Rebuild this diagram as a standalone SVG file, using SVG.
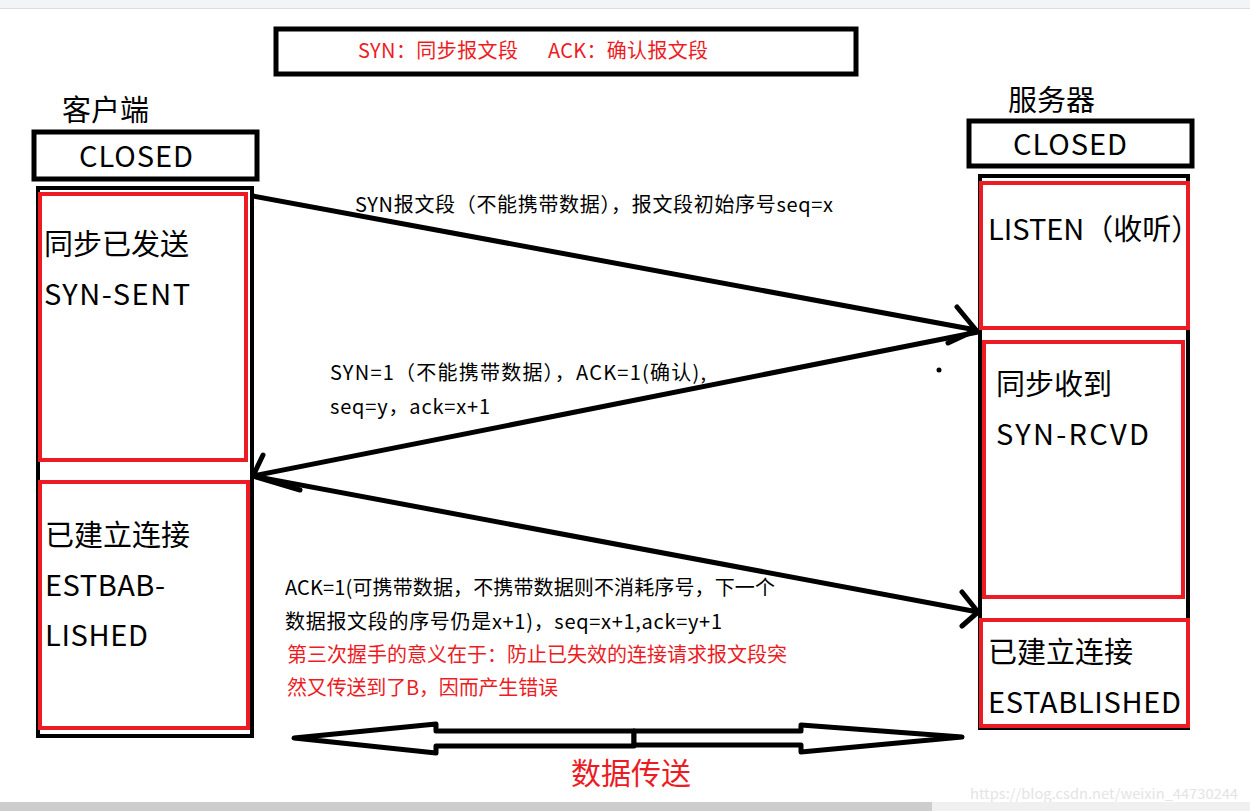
<svg xmlns="http://www.w3.org/2000/svg" width="1250" height="811" viewBox="0 0 1250 811">
<style>
  text { font-family: "Noto Sans CJK SC", "Noto Sans", sans-serif; }
  .blk { fill: none; stroke: #000; stroke-width: 5; }
  .red { fill: none; stroke: #ed1c24; stroke-width: 4; }
  .big { font-size: 29px; fill: #000; }
  .lbl { font-size: 20px; fill: #000; }
  .rlbl { font-size: 20px; fill: #ed1c24; }
  .conn { stroke: #000; stroke-width: 5; fill: none; stroke-linecap: round; stroke-linejoin: round; }
</style>
<rect x="0" y="0" width="1250" height="811" fill="#fff"/>
<g id="toolbar">
  <rect x="0" y="0" width="1250" height="8" fill="#f3f4f6"/>
  <line x1="0" y1="8.5" x2="1250" y2="8.5" stroke="#dcdde0" stroke-width="1"/>
</g>
<g id="legend">
  <rect x="276" y="29" width="580" height="45" class="blk"/>
  <text x="358" y="58" class="rlbl" textLength="160" lengthAdjust="spacing">SYN：同步报文段</text>
  <text x="548" y="58" class="rlbl" textLength="160" lengthAdjust="spacing">ACK：确认报文段</text>
</g>
<g id="client-title">
  <text x="62" y="121" class="big">客户端</text>
</g>
<g id="client-closed">
  <rect x="34" y="132" width="223" height="47" class="blk"/>
  <text x="79" y="167" class="big" textLength="114" lengthAdjust="spacing">CLOSED</text>
</g>
<g id="client-lifeline">
  <rect x="38" y="188" width="214" height="548" fill="none" stroke="#000" stroke-width="4"/>
</g>
<g id="client-syn-sent">
  <rect x="40" y="194" width="206" height="266" class="red"/>
  <text x="44" y="255" class="big">同步已发送</text>
  <text x="44" y="305" class="big" textLength="146" lengthAdjust="spacing">SYN-SENT</text>
</g>
<g id="client-established">
  <rect x="40" y="482" width="208" height="246" class="red"/>
  <text x="45" y="546" class="big">已建立连接</text>
  <text x="45" y="596" class="big" textLength="120" lengthAdjust="spacing">ESTBAB-</text>
  <text x="45" y="646" class="big" textLength="103" lengthAdjust="spacing">LISHED</text>
</g>
<g id="server-title">
  <text x="1008" y="111" class="big">服务器</text>
</g>
<g id="server-closed">
  <rect x="969" y="121" width="223" height="45" class="blk"/>
  <text x="1013" y="155" class="big" textLength="114" lengthAdjust="spacing">CLOSED</text>
</g>
<g id="server-lifeline">
  <rect x="980" y="176" width="208" height="552" fill="none" stroke="#000" stroke-width="4"/>
</g>
<g id="server-listen">
  <rect x="981" y="183" width="207" height="145" class="red"/>
  <text x="988" y="240" class="big">LISTEN（收听）</text>
</g>
<g id="server-syn-rcvd">
  <rect x="984" y="342" width="199" height="255" class="red"/>
  <text x="996" y="395" class="big">同步收到</text>
  <text x="996" y="445" class="big" textLength="153" lengthAdjust="spacing">SYN-RCVD</text>
</g>
<g id="server-established">
  <rect x="981" y="620" width="207" height="106" class="red"/>
  <text x="988" y="663" class="big">已建立连接</text>
  <text x="988" y="713" class="big" textLength="193" lengthAdjust="spacing">ESTABLISHED</text>
</g>
<g id="connectors">
  <path class="conn" d="M253 196 L976 330 M957 307 L976 330 L948 343"/>
  <path class="conn" d="M978 332 L253 476 M263 455 L253 476 L300 490"/>
  <path class="conn" d="M253 476 L978 612 M962 592 L978 612 L962 626"/>
  <circle cx="939" cy="370" r="2.5" fill="#000"/>
</g>
<g id="labels">
  <text x="355" y="212" class="lbl" textLength="478" lengthAdjust="spacing">SYN报文段（不能携带数据），报文段初始序号seq=x</text>
  <text x="330" y="380" class="lbl" textLength="376" lengthAdjust="spacing">SYN=1（不能携带数据），ACK=1(确认),</text>
  <text x="330" y="414" class="lbl" textLength="160" lengthAdjust="spacing">seq=y，ack=x+1</text>
  <text x="285" y="595" class="lbl" textLength="490" lengthAdjust="spacing">ACK=1(可携带数据，不携带数据则不消耗序号，下一个</text>
  <text x="285" y="629" class="lbl" textLength="437" lengthAdjust="spacing">数据报文段的序号仍是x+1)，seq=x+1,ack=y+1</text>
  <text x="287" y="662" class="rlbl" textLength="500" lengthAdjust="spacing">第三次握手的意义在于：防止已失效的连接请求报文段突</text>
  <text x="287" y="695" class="rlbl" textLength="271" lengthAdjust="spacing">然又传送到了B，因而产生错误</text>
</g>
<g id="data-transfer">
  <path d="M294 738 L436 724 L436 731 L634 731 L634 746 L436 746 L436 753 Z" fill="#fff" stroke="#000" stroke-width="5" stroke-linejoin="round"/>
  <path d="M634 731 L801 731 L801 725 L962 737 L801 752 L801 745 L634 745 Z" fill="#fff" stroke="#000" stroke-width="5" stroke-linejoin="round"/>
  <text x="571" y="784" font-size="30" fill="#ed1c24">数据传送</text>
</g>
<g id="watermark">
  <text x="970" y="799" font-size="14" fill="#e4e4e4" font-family="Liberation Sans, Arial, sans-serif" textLength="268" lengthAdjust="spacingAndGlyphs">https://blog.csdn.net/weixin_44730244</text>
</g>
<g id="scrollbar">
  <rect x="0" y="802" width="932" height="9" fill="#cdcdcd"/>
  <rect x="932" y="802" width="318" height="9" fill="#f0f0f0"/>
</g>
</svg>
